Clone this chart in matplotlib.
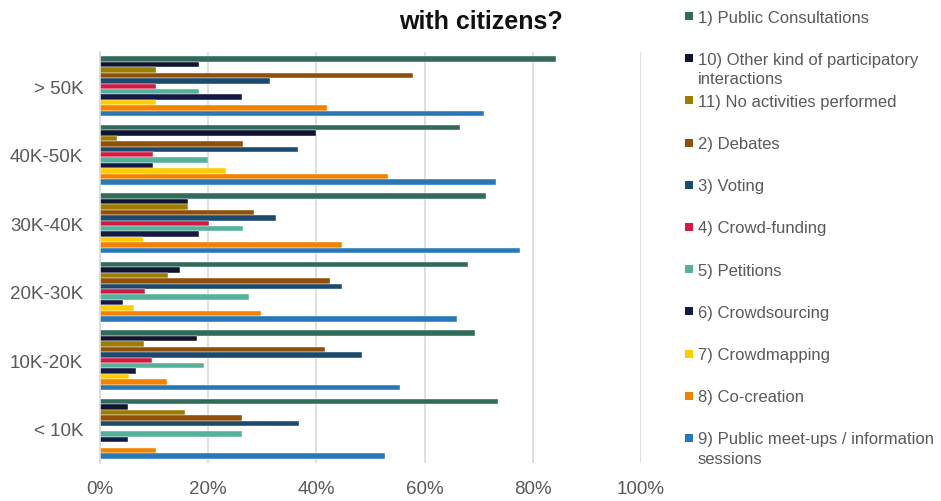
"""
Participatory activities by municipality size - horizontal grouped bars
"""

import numpy as np
import matplotlib
matplotlib.use("Agg")
import matplotlib.pyplot as plt
from matplotlib.patches import Rectangle
from matplotlib.ticker import FuncFormatter

plt.rcParams['font.family'] = ['Liberation Sans', 'DejaVu Sans']

# ── data ────────────────────────────────────────
sizes = ['< 10K', '10K-20K', '20K-30K', '30K-40K', '40K-50K', '> 50K']

series_names = [
    '1) Public Consultations',
    '10) Other kind of participatory\ninteractions',
    '11) No activities performed',
    '2) Debates',
    '3) Voting',
    '4) Crowd-funding',
    '5) Petitions',
    '6) Crowdsourcing',
    '7) Crowdmapping',
    '8) Co-creation',
    '9) Public meet-ups / information\nsessions',
]

# values per size class, in the order of `sizes`
public_consultations = [0.736, 0.694, 0.680, 0.713, 0.666, 0.842]
other_interactions   = [0.051, 0.179, 0.148, 0.162, 0.400, 0.183]
no_activities        = [0.157, 0.082, 0.126, 0.162, 0.032, 0.104]
debates              = [0.262, 0.416, 0.425, 0.285, 0.265, 0.578]
voting               = [0.367, 0.485, 0.447, 0.326, 0.366, 0.315]
crowd_funding        = [0.000, 0.096, 0.084, 0.202, 0.098, 0.104]
petitions            = [0.262, 0.193, 0.275, 0.264, 0.199, 0.183]
crowdsourcing        = [0.051, 0.067, 0.042, 0.183, 0.098, 0.262]
crowdmapping         = [0.000, 0.054, 0.062, 0.080, 0.232, 0.104]
co_creation          = [0.104, 0.124, 0.297, 0.448, 0.532, 0.420]
public_meetups       = [0.526, 0.555, 0.660, 0.776, 0.732, 0.710]

series_values = [public_consultations, other_interactions, no_activities, debates,
                 voting, crowd_funding, petitions, crowdsourcing, crowdmapping,
                 co_creation, public_meetups]

COLORS = ['#326A5B', '#10142E', '#9C7D00', '#91500A', '#1C4A6C', '#D21942',
          '#55B19A', '#141A45', '#FFCC00', '#F28300', '#2878B8']

TEXT = '#595959'
GRID = '#D9D9D9'

# ── figure ──────────────────────────────────────
W, H = 941, 502
fig = plt.figure(figsize=(W / 100, H / 100), dpi=100, facecolor='white')
ax = fig.add_axes([100 / W, 1 - 464 / H, 541 / W, 411 / H])

n = len(series_names)
bar_h = 0.87 / n
y = np.arange(len(sizes))
for j, (vals, col) in enumerate(zip(series_values, COLORS)):
    offset = ((n - 1) / 2 - j) * bar_h
    ax.barh(y + offset, vals, height=bar_h, color=col,
            edgecolor='white', linewidth=0.3, zorder=2)

ax.set_xlim(0, 1)
ax.set_ylim(-0.5, len(sizes) - 0.5)
ax.set_xticks(np.arange(0, 1.01, 0.2))
ax.xaxis.set_major_formatter(FuncFormatter(lambda v, _: f"{v * 100:.0f}%"))
ax.set_yticks(y)
ax.set_yticklabels(sizes)
ax.tick_params(axis='both', length=0, labelsize=13.5, colors=TEXT, pad=12)
ax.grid(axis='x', color=GRID, linewidth=1.2, zorder=0)
ax.set_axisbelow(True)
for side in ['top', 'right', 'bottom']:
    ax.spines[side].set_visible(False)
ax.spines['left'].set_color(GRID)
ax.spines['left'].set_linewidth(1.2)
for lbl in ax.get_xticklabels():
    lbl.set_clip_on(False)

# title (only the last line is visible in the crop)
fig.text(481 / W, 1 - 29 / H, 'with citizens?', ha='center', va='baseline',
         fontsize=18, fontweight='bold', color='#111111')

# ── legend (right side) ─────────────────────────
for i, (name, col) in enumerate(zip(series_names, COLORS)):
    yc = 17 + 42.2 * i
    fig.add_artist(Rectangle((685 / W, 1 - (yc + 4) / H), 8 / W, 8 / H,
                             transform=fig.transFigure, facecolor=col,
                             edgecolor='none'))
    fig.text(698 / W, 1 - (yc - 6.5) / H, name, ha='left', va='top',
             fontsize=12, color=TEXT, linespacing=1.35)

fig.savefig('out.png', dpi=100, facecolor='white')
